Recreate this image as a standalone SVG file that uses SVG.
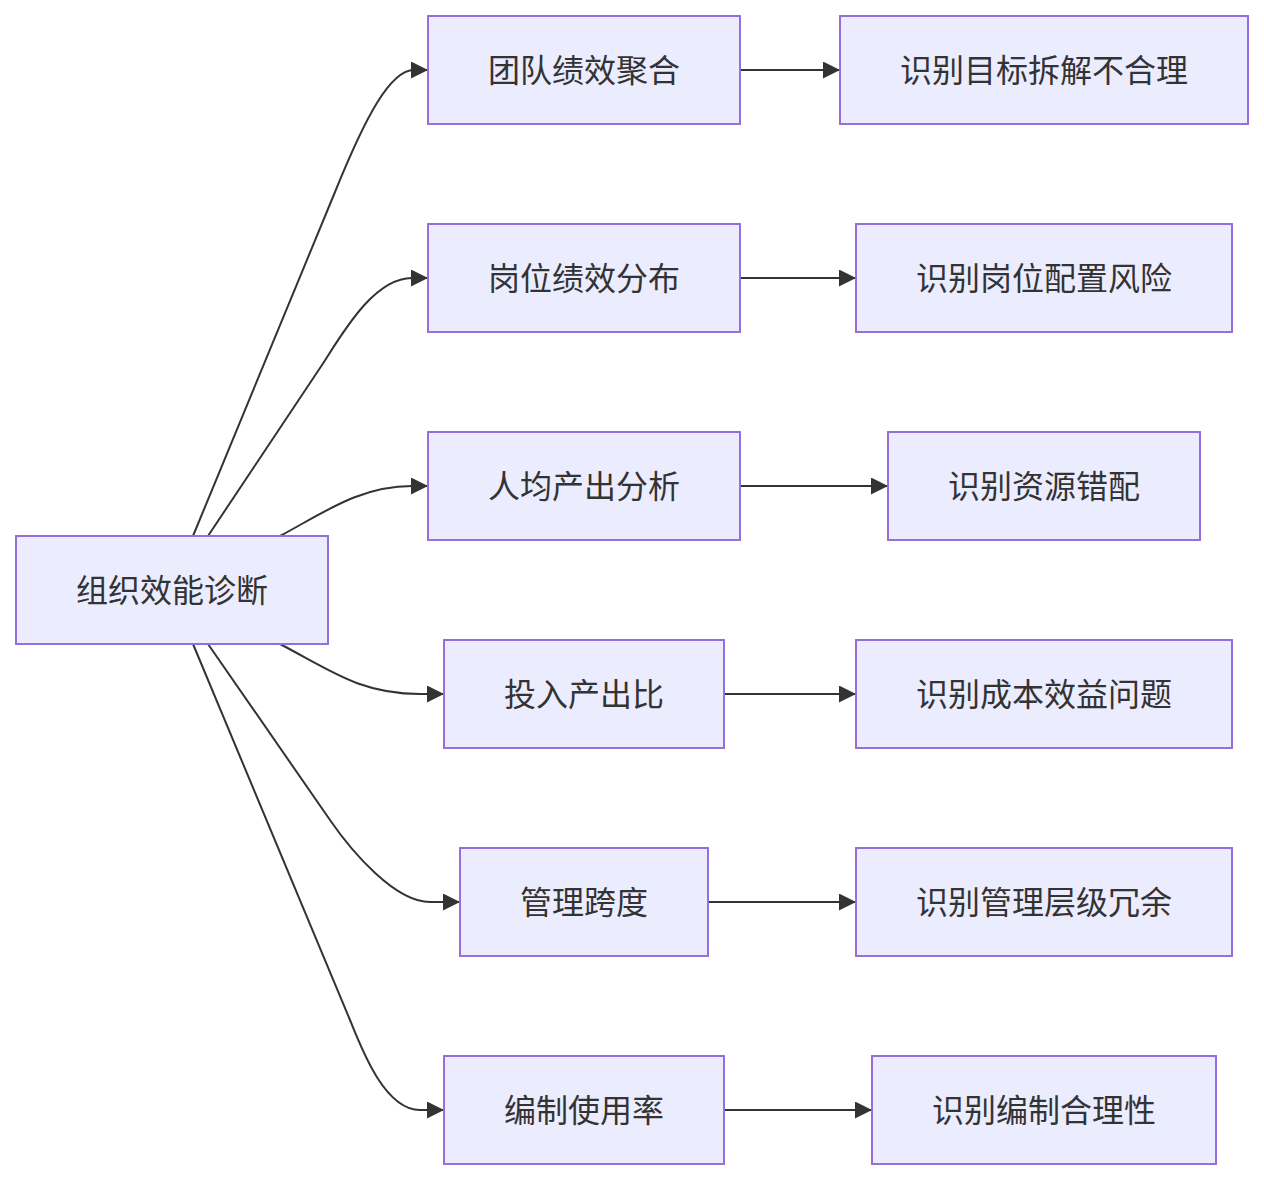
<svg xmlns="http://www.w3.org/2000/svg" width="1264" height="1180" viewBox="0 0 1264 1180">
<style>
.node rect{fill:#ECECFF;stroke:#9370DB;stroke-width:2}
.node text{font-family:"Noto Sans CJK SC","Noto Sans",sans-serif;font-size:32px;fill:#333333;text-anchor:middle;dominant-baseline:central}
.edges path{fill:none;stroke:#333333;stroke-width:2;marker-end:url(#arrow)}
</style>
<defs>
<marker id="arrow" markerUnits="userSpaceOnUse" markerWidth="17" markerHeight="17" refX="17" refY="8.5" orient="auto" viewBox="0 0 17 17">
<path d="M0,0 L17,8.5 L0,17 z" fill="#333333"/>
</marker>
</defs>
<rect width="1264" height="1180" fill="#ffffff"/>
<g class="edges">
<path d="M193,536 L335,192 C365,118 390,70 414,70 L428,70"/>
<path d="M208,536 L320,368 C340,338 372,278 412,278 L428,278"/>
<path d="M280,536 C325,512 360,486 412,486 L428,486"/>
<path d="M280,644 C330,670 360,694 420,694 L444,694"/>
<path d="M208,644 L330,820 C352,852 395,902 430,902 L460,902"/>
<path d="M193,644 L350,1020 C362,1050 385,1110 420,1110 L444,1110"/>
<path d="M740,70 L840,70"/>
<path d="M740,278 L856,278"/>
<path d="M740,486 L888,486"/>
<path d="M724,694 L856,694"/>
<path d="M708,902 L856,902"/>
<path d="M724,1110 L872,1110"/>
</g>
<g id="n0" class="node"><rect x="16" y="536" width="312" height="108"/><text x="172" y="588">组织效能诊断</text></g>
<g id="n1" class="node"><rect x="428" y="16" width="312" height="108"/><text x="584" y="68">团队绩效聚合</text></g>
<g id="n2" class="node"><rect x="428" y="224" width="312" height="108"/><text x="584" y="276">岗位绩效分布</text></g>
<g id="n3" class="node"><rect x="428" y="432" width="312" height="108"/><text x="584" y="484">人均产出分析</text></g>
<g id="n4" class="node"><rect x="444" y="640" width="280" height="108"/><text x="584" y="692">投入产出比</text></g>
<g id="n5" class="node"><rect x="460" y="848" width="248" height="108"/><text x="584" y="900">管理跨度</text></g>
<g id="n6" class="node"><rect x="444" y="1056" width="280" height="108"/><text x="584" y="1108">编制使用率</text></g>
<g id="r1" class="node"><rect x="840" y="16" width="408" height="108"/><text x="1044" y="68">识别目标拆解不合理</text></g>
<g id="r2" class="node"><rect x="856" y="224" width="376" height="108"/><text x="1044" y="276">识别岗位配置风险</text></g>
<g id="r3" class="node"><rect x="888" y="432" width="312" height="108"/><text x="1044" y="484">识别资源错配</text></g>
<g id="r4" class="node"><rect x="856" y="640" width="376" height="108"/><text x="1044" y="692">识别成本效益问题</text></g>
<g id="r5" class="node"><rect x="856" y="848" width="376" height="108"/><text x="1044" y="900">识别管理层级冗余</text></g>
<g id="r6" class="node"><rect x="872" y="1056" width="344" height="108"/><text x="1044" y="1108">识别编制合理性</text></g>
</svg>
